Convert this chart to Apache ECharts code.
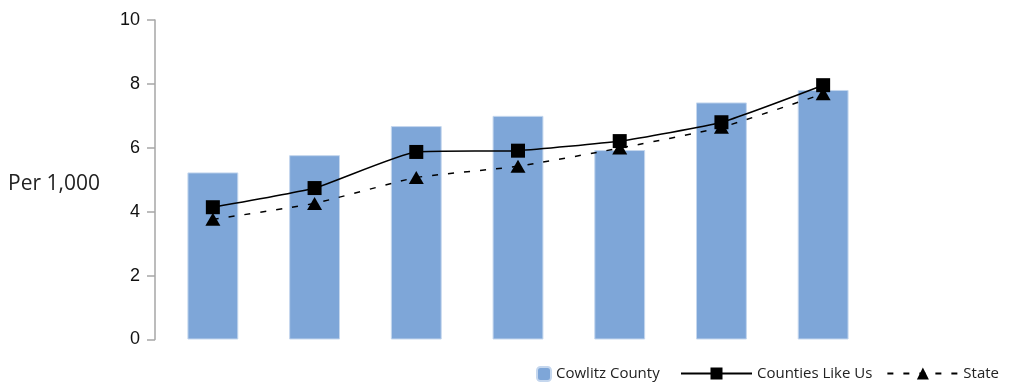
<!DOCTYPE html>
<html><head><meta charset="utf-8">
<script src="https://cdn.jsdelivr.net/npm/echarts@6/dist/echarts.min.js"></script>
<style>html,body{margin:0;padding:0;background:#fff}#c{width:1009px;height:383px}</style>
</head><body><div id="c"></div>
<script>
var categories = ['1', '2', '3', '4', '5', '6', '7'];
var cowlitz = [5.23, 5.77, 6.68, 7.0, 5.93, 7.42, 7.81];
var countiesLikeUs = [4.14, 4.74, 5.87, 5.91, 6.21, 6.80, 7.96];
var state = [3.76, 4.26, 5.07, 5.42, 5.99, 6.64, 7.69];
var yTicks = [0, 2, 4, 6, 8, 10];

var chart = echarts.init(document.getElementById('c'));
chart.setOption({
  animation: false,
  title: { text: 'Per 1,000', left: 3, top: 169, textStyle: { fontFamily: 'Open Sans', fontSize: 21, fontWeight: 'normal', color: '#222' } },
  grid: { left: 162, right: 135, top: 20, bottom: 43.5 },
  legend: [
    { data: ['Cowlitz County'], left: 531, top: 361, itemWidth: 14, itemHeight: 14, itemGap: 14,
      textStyle: { fontFamily: 'Open Sans', fontSize: 15, color: '#222' } },
    { data: ['Counties Like Us', 'State'], left: 675, top: 361, itemWidth: 71, itemHeight: 15, itemGap: 14,
      textStyle: { fontFamily: 'Open Sans', fontSize: 15, color: '#222' } }
  ],
  xAxis: { type: 'category', data: categories, axisLine: { show: false }, axisTick: { show: false }, axisLabel: { show: false } },
  yAxis: { type: 'value', min: yTicks[0], max: yTicks[yTicks.length - 1], interval: 2, offset: 7,
    axisLine: { show: true, lineStyle: { color: '#a6a6a6', width: 1.5 } },
    axisTick: { show: true, length: 8, lineStyle: { color: '#a6a6a6', width: 1.5 } },
    splitLine: { show: false },
    axisLabel: { margin: 15, fontFamily: 'Liberation Sans', fontSize: 18, color: '#111' } },
  series: [
    { name: 'Cowlitz County', type: 'bar', data: cowlitz, barWidth: '50%',
      itemStyle: { color: '#7ea6d8', borderColor: '#c5d7ee', borderWidth: 1 } },
    { name: 'Counties Like Us', type: 'line', data: countiesLikeUs, smooth: 0.15,
      symbol: 'rect', symbolSize: 14, itemStyle: { color: '#000' }, lineStyle: { color: '#000', width: 1.5 } },
    { name: 'State', type: 'line', data: state, smooth: 0.15,
      symbol: 'triangle', symbolSize: [15, 13], itemStyle: { color: '#000' }, lineStyle: { color: '#000', width: 1.5, type: [6, 10] } }
  ]
});
</script></body></html>
